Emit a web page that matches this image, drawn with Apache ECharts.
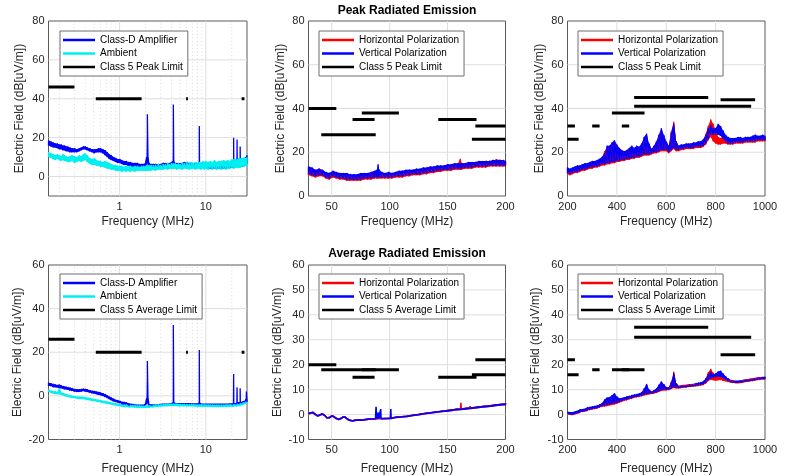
<!DOCTYPE html>
<html>
<head>
<meta charset="utf-8">
<script src="https://cdn.jsdelivr.net/npm/echarts@6/dist/echarts.min.js"></script>
<style>html,body{margin:0;padding:0;background:#fff}#c{width:788px;height:476px}</style>
</head>
<body>
<div id="c"></div>
<script>
// ---------- tick / grid arrays ----------
const lowFreqTicks = [1, 10];
const lowFreqMinorGrid = [0.2,0.3,0.4,0.5,0.6,0.7,0.8,0.9,2,3,4,5,6,7,8,9,20];
const vhfTicks = [50, 100, 150, 200];
const uhfTicks = [200, 400, 600, 800, 1000];
const peakTicks = [0, 20, 40, 60, 80];
const avgLowTicks = [-20, 0, 20, 40, 60];
const avgTicks = [-10, 0, 10, 20, 30, 40, 50, 60];

// ---------- 0.15-30 MHz, peak: [MHz, ampLo, ampHi, ambLo, ambHi] ----------
const peakLowRows = [
[0.15,16,18.5,10,12.5],[0.16,15.5,18,9.5,12],[0.17,15,17.5,9,11.5],[0.18,15,17,8.5,11],[0.19,14.5,17,9,11.5],
[0.2,14,16.5,8.5,11],[0.21,14,16.5,8,10.5],[0.22,13.5,16,8.5,11.5],[0.23,13.5,16,8,11],[0.24,13,15.5,8,10.5],
[0.25,13,15.5,7.5,10],[0.265,12.5,15,7.5,10.5],[0.28,12.5,14.5,8,11],[0.3,12.5,14.5,7,10.5],[0.32,12.5,14,7.5,10],
[0.34,13,14.5,8,11],[0.36,13.5,15,7.5,10.5],[0.38,14,15.5,8,11.5],[0.4,14,15.5,8.5,12],[0.42,13.5,15,7.5,11],
[0.45,13,14.5,6.5,9.5],[0.48,12.5,14,6,9],[0.51,12,14,6,9.5],[0.54,12.5,14,5.5,8.5],[0.57,12.5,14.5,5.5,8],
[0.6,12.5,14.5,5,8],[0.64,12,14,5,7.5],[0.68,11,13.5,4.5,8],[0.72,10,12.5,4,7.5],[0.76,9,11.5,4,7],
[0.8,8.5,11,3.5,6.5],[0.85,8,10,3.5,6],[0.9,7.5,9.5,3,6],[0.95,7,9,3,5.5],[1.0,7,9,3,5.5],
[1.06,6.5,8.5,2.5,5.5],[1.12,6,8,3,5],[1.19,6,8,2.5,5.5],[1.26,5.5,7.5,3,5],[1.33,5.5,7.5,2.5,5.5],
[1.41,5,7,3,5],[1.5,5,7,2.5,5.5],[1.6,5,7,3,5.5],[1.7,5,6.5,3,5],[1.8,5,6.5,3,5.5],
[1.9,5,6.5,3,5.5],[2.0,5,7,3,5.5],[2.06,6,10,3,5.5],[2.1,7,32,3,6],[2.14,6,10,3,5.5],
[2.2,5,7,3,6],[2.3,4.5,6.5,3,6],[2.45,4.5,6.5,3.5,6],[2.6,4.5,6.5,3,6],[2.8,4.5,6.5,3.5,6.5],
[3.0,4.5,6.5,3.5,6],[3.2,4.5,7,3.5,6.5],[3.4,5,7,4,6.5],[3.6,5,7,3.5,7],[3.8,5,7,4,6.5],
[4.0,5,7.5,4,7],[4.15,5,8,4,6.5],[4.2,6,37,4,7],[4.25,5,8,4,6.5],[4.4,5,7,4,7],
[4.6,5,7,3.5,6.5],[4.8,5,7,4,7],[5.0,5,7,4,6.5],[5.3,5,7,3.5,7],[5.6,5,7.5,4,7],
[6.0,5,7.5,4,7.5],[6.4,5,7,3.5,7],[6.8,5,7,4,7.5],[7.2,5,7,4,7],[7.6,5,7,3.5,7.5],
[8.0,5,7,4,7],[8.35,5,7,4,7.5],[8.4,5,26,4,7],[8.45,5,7,4,7.5],[8.8,5,7,3.5,7],
[9.2,4.5,7,4,8],[9.6,4.5,7,3.5,7.5],[10,4.5,6.5,4,8],[10.6,4.5,6.5,3.5,7.5],[11.2,4,6.5,4,8],
[11.9,4,6.5,3.5,7.5],[12.6,4,6.5,4,8.5],[13.3,4,6.5,3.5,7.5],[14.1,4,6.5,4,8],[15,4,6.5,3.5,8],
[16,4,7,4,8.5],[17,4,7,3.5,8],[18,4.5,7,4,8.5],[19,4.5,7,4,8],[20,4.5,7.5,4.5,9],
[20.9,4.5,7.5,4,8.5],[21,5,20,4.5,9],[21.1,4.5,7.5,4,8.5],[22,5,7.5,4.5,9],[22.9,5,7.5,4.5,8.5],
[23,5,19,4.5,9],[23.1,5,7.5,4.5,9],[24,5,8,4.5,9.5],[24.9,5,8,4.5,9],[25,5,15.5,5,9.5],
[25.1,5,8,4.5,9],[26,5,8.5,5,9.5],[27,5.5,9,5,9.5],[28,5.5,9.5,5,10],[29,6,10,5.5,9.5],[30,6.5,11,5.5,10]
];

// ---------- 0.15-30 MHz, average: [MHz, ampLo, ampHi, ambLo, ambHi] ----------
const avgLowRows = [
[0.15,4.5,6,1.8,2.8],[0.16,4.5,5.8,1.6,2.5],[0.17,4,5.5,1.3,2.2],[0.18,4,5.2,1,2],[0.19,3.8,5,0.8,1.8],
[0.2,3.5,5.2,0.8,3.5],[0.21,3.5,4.8,0.5,1.5],[0.22,3.3,4.5,0.3,1.3],[0.23,3,4.3,0,1],[0.24,3,4.2,-0.2,0.8],
[0.25,2.8,4,-0.3,0.6],[0.265,2.5,3.8,-0.5,0.4],[0.28,2.3,3.5,-0.7,0.2],[0.3,2,3.2,-0.8,0],[0.32,1.8,3,-1,-0.2],
[0.34,1.8,3,-1.1,-0.3],[0.36,2,3.2,-1.2,-0.3],[0.38,2.2,3.3,-1.3,-0.4],[0.4,2,3.2,-1.4,-0.5],[0.42,1.8,3,-1.6,-0.7],
[0.45,1.5,2.6,-1.8,-0.9],[0.48,1.2,2.3,-2,-1.1],[0.51,1,2.2,-2.2,-1.3],[0.54,0.8,2,-2.4,-1.5],[0.57,0.5,1.8,-2.6,-1.7],
[0.6,0.3,1.5,-2.8,-1.9],[0.64,0,1.2,-3,-2.1],[0.68,-0.5,0.8,-3.2,-2.3],[0.72,-1,0.2,-3.4,-2.5],[0.76,-1.5,-0.3,-3.6,-2.7],
[0.8,-2,-0.8,-3.8,-2.9],[0.85,-2.5,-1.3,-4,-3.1],[0.9,-2.8,-1.8,-4.2,-3.3],[0.95,-3,-2,-4.4,-3.5],[1.0,-3.3,-2.3,-4.5,-3.6],
[1.06,-3.5,-2.6,-4.7,-3.8],[1.12,-3.8,-2.8,-4.8,-3.9],[1.19,-4,-3,-5,-4],[1.26,-4.2,-3.3,-5,-4.1],[1.33,-4.3,-3.5,-5.2,-4.2],
[1.41,-4.5,-3.6,-5.2,-4.2],[1.5,-4.6,-3.8,-5.3,-4.3],[1.6,-4.7,-3.9,-5.4,-4.4],[1.7,-4.8,-4,-5.5,-4.4],[1.8,-4.8,-4,-5.5,-4.5],
[1.9,-4.8,-4,-5.5,-4.5],[2.0,-4.5,-3.5,-5.5,-4.5],[2.06,-4,-1,-5.5,-4.5],[2.1,-3,16,-5.4,-4.4],[2.14,-4,-1,-5.4,-4.4],
[2.2,-4.6,-3.8,-5.4,-4.4],[2.3,-4.6,-3.8,-5.3,-4.3],[2.45,-4.5,-3.8,-5.2,-4.2],[2.6,-4.5,-3.8,-5.1,-4.1],[2.8,-4.4,-3.7,-5,-4],
[3.0,-4.3,-3.6,-4.9,-3.9],[3.2,-4.2,-3.5,-4.8,-3.8],[3.4,-4.2,-3.5,-4.7,-3.7],[3.6,-4.2,-3.5,-4.7,-3.7],[3.8,-4.1,-3.4,-4.6,-3.6],
[4.0,-4,-3.2,-4.6,-3.6],[4.15,-4,-3,-4.6,-3.6],[4.2,-4,32.5,-4.6,-3.6],[4.25,-4,-3,-4.6,-3.6],[4.4,-4,-3.2,-4.6,-3.6],
[4.6,-4,-3.3,-4.6,-3.6],[4.8,-4,-3.3,-4.7,-3.7],[5.0,-4,-3.3,-4.7,-3.7],[5.3,-4,-3.3,-4.7,-3.7],[5.6,-4,-3.3,-4.7,-3.7],
[6.0,-4,-3.3,-4.8,-3.8],[6.4,-4,-3.3,-4.8,-3.8],[6.8,-4.1,-3.4,-4.8,-3.8],[7.2,-4.1,-3.4,-4.8,-3.8],[7.6,-4.1,-3.4,-4.9,-3.9],
[8.0,-4.1,-3.4,-4.9,-3.9],[8.35,-4,-3,-4.9,-3.9],[8.4,-4,21,-4.9,-3.9],[8.45,-4,-3,-4.9,-3.9],[8.8,-4.2,-3.5,-4.9,-3.9],
[9.2,-4.2,-3.5,-5,-4],[9.6,-4.2,-3.5,-5,-4],[10,-4.3,-3.5,-5,-4],[10.6,-4.3,-3.5,-5,-4],[11.2,-4.3,-3.5,-5,-4],
[11.9,-4.3,-3.5,-5.1,-4.1],[12.6,-4.3,-3.5,-5.1,-4.1],[13.3,-4.3,-3.5,-5.1,-4.1],[14.1,-4.3,-3.5,-5.1,-4.1],[15,-4.3,-3.5,-5.1,-4.1],
[16,-4.3,-3.5,-5.1,-4.1],[17,-4.3,-3.5,-5,-4],[18,-4.3,-3.5,-5,-4],[19,-4.2,-3.4,-5,-4],[20,-4.2,-3.4,-4.9,-3.9],
[20.9,-4.2,-3.4,-4.9,-3.9],[21,-4,10,-4.9,-3.9],[21.1,-4.2,-3.3,-4.9,-3.9],[22,-4.2,-3.3,-4.8,-3.8],[22.9,-4.1,-3.2,-4.8,-3.8],
[23,-4,4,-4.8,-3.8],[23.1,-4,-3.2,-4.7,-3.7],[24,-4,-3,-4.6,-3.6],[24.9,-4,-3,-4.5,-3.5],[25,-4,3.5,-4.5,-3.5],
[25.1,-3.8,-2.8,-4.4,-3.4],[26,-3.7,-2.7,-4.3,-3.3],[27,-3.5,-2.5,-4.1,-3.1],[28,-3.3,-2.2,-3.9,-2.9],[29,-3,-1.5,-3.6,-2.6],
[29.5,-3,2,-3.4,-2.4],[30,-2.8,-1.5,-3.2,-2.2]
];

// ---------- 30-200 MHz, peak: [MHz, horLo, horHi, verLo, verHi] ----------
const peakVhfRows = [
[30,9.5,13,10,13.5],[33,9,12.5,9.5,13],[36,8.5,11.5,9,12],[39,9,12.5,9.5,12.5],[42,9,11.5,9.5,12],
[45,8,10.5,8.5,11],[48,7.5,10,8,10.5],[51,8.5,11,9,11.5],[54,8,10.5,8.5,11],[57,7.5,10,8,10.5],
[60,7.5,10,8,10.5],[63,7,10,7.5,10.5],[66,7,9.5,7.5,10],[69,7,9.5,7.5,10],[72,7,9.5,7.5,10],
[75,7,10,7.5,10.5],[78,7.5,10,8,10.5],[81,7.5,10,8,10.5],[84,7.5,10.5,8,11],[87,8,11,8.5,11.5],
[89,8,11,8.5,12],[90,8,11.5,8.5,14.5],[91,8,11,8.5,12],[93,8,10.5,8.5,11],[96,8,10,8.5,10.5],
[99,8,10.5,8.5,11],[102,8,10,8.5,10.5],[105,8.5,10.5,9,11],[108,8.5,11,9,11.5],[111,8.5,11,9,11.5],
[114,9,11.5,9.5,12],[117,9,11.5,9.5,12],[120,9.5,11.5,10,12],[123,9.5,12,10,12.5],[126,9.5,12,10,12.5],
[129,10,12.5,10.5,13],[132,10,12.5,10.5,13],[135,10.5,13,11,13.5],[138,10.5,13,11,13.5],[141,11,13.5,11.5,14],
[144,11,13.5,11.5,14],[147,11.5,14,12,14],[150,11.5,14,12,14.5],[153,11.5,14,12,14.5],[156,12,14.5,12.5,15],
[159,12,15,12.5,15],[161,12,17,12.5,15],[162,12,15,12.5,15],[165,12.5,15,13,15],[168,12.5,15,13,15.5],
[171,12.5,15,13,15.5],[174,13,15.5,13.5,15.5],[177,13,15.5,13.5,16],[180,13,15.5,13.5,16],[183,13,16,13.5,16],
[186,13.5,16,14,16],[189,13.5,16,14,16.5],[192,13.5,16.8,14,16.5],[195,13.5,16.5,14,16.5],[198,13.5,16.5,14,16.5],
[200,13.5,16,14,16]
];

// ---------- 30-200 MHz, average: [MHz, horLo, horHi, verLo, verHi] ----------
const avgVhfRows = [
[30,0.2,0.6,0.3,0.7],[32,0.6,1.0,0.6,1.0],[34,0.7,1.1,0.8,1.2],[36,0.0,0.4,0.0,0.4],[38,-0.6,-0.2,-0.6,-0.2],
[40,-0.2,0.2,-0.2,0.2],[42,0.2,0.6,0.2,0.6],[44,-0.4,0,-0.4,0],[46,-1.4,-1.0,-1.4,-1.0],[48,-1.3,-0.9,-1.3,-0.9],
[50,-0.6,-0.2,-0.6,-0.2],[52,-0.9,-0.5,-0.9,-0.5],[54,-1.6,-1.2,-1.6,-1.2],[56,-2.0,-1.6,-2.0,-1.6],[58,-1.6,-1.2,-1.6,-1.2],
[60,-1.0,-0.6,-1.0,-0.6],[62,-1.2,-0.8,-1.2,-0.8],[64,-2.0,-1.6,-2.0,-1.6],[66,-2.4,-2.0,-2.4,-2.0],[68,-2.6,-2.2,-2.6,-2.2],
[70,-2.4,-2.0,-2.4,-2.0],[73,-2.2,-1.8,-2.2,-1.8],[76,-2.3,-1.9,-2.3,-1.9],[79,-2.1,-1.7,-2.1,-1.7],[82,-1.9,-1.5,-1.9,-1.5],
[85,-1.8,-1.4,-1.8,-1.4],[87.8,-1.8,-1.4,-1.8,-1.4],[88.3,-1.8,-1.4,-1.8,3.1],[88.8,-1.8,-1.4,-1.8,-1.4],[90,-1.7,-1.3,-1.7,-1.3],
[90.3,-1.7,-1.3,-1.7,0.8],[90.6,-1.7,-1.3,-1.7,-1.3],[92,-1.7,-1.3,-1.7,-1.3],[92.3,-1.7,-1.3,-1.7,2.2],[92.6,-1.7,-1.3,-1.7,-1.3],
[95,-1.7,-1.3,-1.7,-1.3],[100.7,-1.6,-1.2,-1.6,-1.2],[101,-1.6,-1.2,-1.6,2.2],[101.3,-1.6,-1.2,-1.6,-1.2],[105,-1.2,-0.8,-1.2,-0.8],
[110,-1.0,-0.6,-1.0,-0.6],[115,-0.8,-0.4,-0.8,-0.4],[120,-0.4,0,-0.4,0],[125,-0.1,0.3,-0.1,0.3],[130,0.3,0.7,0.3,0.7],
[135,0.6,1.0,0.6,1.0],[140,0.9,1.3,0.9,1.3],[145,1.2,1.6,1.2,1.6],[150,1.5,1.9,1.5,1.9],[155,1.8,2.2,1.8,2.2],
[157.7,2.0,2.4,2.0,2.4],[158,2.0,2.8,2.0,2.4],[158.3,2.0,2.4,2.0,2.4],[161.2,2.1,2.5,2.1,2.5],[161.5,2.1,4.7,2.1,2.5],
[161.8,2.1,2.5,2.1,2.5],[165,2.3,2.7,2.3,2.7],[169.2,2.5,2.9,2.5,2.9],[169.5,2.5,3.4,2.5,2.9],[169.8,2.5,2.9,2.5,2.9],
[175,2.8,3.2,2.8,3.2],[180,3.1,3.5,3.1,3.5],[185,3.3,3.7,3.3,3.7],[190,3.6,4.0,3.6,4.0],[195,3.9,4.3,3.9,4.3],
[200,4.1,4.5,4.1,4.5]
];

// ---------- 200-1000 MHz, peak: [MHz, horLo, horHi, verLo, verHi] ----------
const peakUhfRows = [
[200,10,12.5,10.5,13],[210,9.5,12,10,12.5],[220,10,12.5,10.5,13],[230,10.5,13,11,13.5],[240,10.5,13.5,11,14],
[250,11,13.5,11.5,14],[260,11.5,14,12,14.5],[270,11.5,14.5,12,15],[280,12,14.5,12.5,15],[290,12.5,15,13,15.5],
[300,12.5,15.5,13,16],[310,13,15.5,13.5,16],[320,13,16,13.5,16.5],[330,13.5,16.5,14,17],[340,14,17.5,14.5,18],
[350,14,20.5,14.5,19.5],[360,14.5,22,15,23],[370,14.5,22.5,15,23],[380,15,24,15.5,24.5],[390,15,24.5,15.5,25.5],
[400,15.5,23,16,23.5],[410,15.5,21.5,16,22],[420,16,20.5,16.5,21],[430,16,20,16.5,20.5],[440,16.5,20.5,17,21],
[450,16.5,21.5,17,22],[460,17,22.5,17.5,23],[470,17,22,17.5,22],[480,17.5,22.5,18,23],[490,17.5,22,18,22.5],
[500,18,23,18.5,24],[510,18.5,26,19,27],[520,18.5,27,19,28.5],[530,18.5,23.5,19,24],[540,19,21.5,19.5,21.5],
[550,19.5,22.5,20,23],[560,19.5,24.5,20,25],[570,20,27.5,20.5,28],[580,20.5,30,21,31],[590,20.5,27.5,21,28],
[600,20.5,24.5,21,25],[610,19.5,22.5,20,23],[620,20.5,29.5,21,29],[630,21.5,34,22,33],[640,20.5,25,21,25],
[650,20.5,22.5,21,23],[660,21,23,21.5,23.5],[670,21,23,21.5,23.5],[680,21.5,23.5,22,24],[690,21.5,23.5,22,24],
[700,21.5,24,22,24],[710,21.5,24,22,24.5],[720,22,24,22.5,24.5],[730,22,24.5,22.5,25],[740,22,24.5,22.5,25],
[750,22.5,25.5,23,26],[760,23.5,28.5,24,28],[770,25.5,32,26,31],[780,27,35,28,32.5],[790,25,33,28,31],
[800,24,30,28,31],[810,23.5,27,28,33],[820,23.5,26.5,27.5,32],[830,24,27,26,30],[840,24,27,25,28],
[850,23.5,26.5,24,27],[860,23.5,26,24,26.5],[870,23.5,26,24,26.5],[880,24,26,24.5,26.5],[890,24,26.5,24.5,27],
[900,24,26.5,24.5,27],[910,24,26,24.5,26.5],[920,24.5,26.5,25,27],[930,24.5,26.5,25,27],[940,24.5,26.5,25,27],
[950,24.5,27,25,27.5],[960,24.5,27.5,25,28],[970,25,27,25.5,27.5],[980,25,27,25.5,27.5],[990,25,27.5,25.5,28],
[1000,25,27,25.5,27.5]
];

// ---------- 200-1000 MHz, average: [MHz, horLo, horHi, verLo, verHi] ----------
const avgUhfRows = [
[200,0.3,1.0,0.5,1.2],[210,0.1,0.8,0.3,1.0],[220,0.0,0.8,0.2,1.0],[230,0.3,1.1,0.5,1.3],[240,0.6,1.4,0.8,1.6],
[250,0.8,1.8,1.0,2.0],[260,1.2,2.0,1.4,2.2],[270,1.4,2.2,1.6,2.4],[280,1.6,2.6,1.8,2.8],[290,1.8,2.8,2.0,3.0],
[300,2.0,3.0,2.2,3.2],[310,2.2,3.2,2.4,3.4],[320,2.4,3.4,2.6,3.6],[330,2.8,3.8,3.0,4.0],[340,3.2,4.4,3.4,4.6],
[350,3.2,5.4,3.6,6.0],[360,3.4,6.0,3.8,6.8],[370,3.6,6.4,4.0,7.0],[380,3.8,7.2,4.2,7.8],[390,4.0,8.0,4.4,8.6],
[400,4.3,6.8,4.6,7.2],[410,4.7,6.3,5.0,6.5],[420,5.1,6.4,5.4,6.6],[430,5.5,6.7,5.8,6.9],[440,5.7,7.0,6.0,7.2],
[450,6.1,7.3,6.4,7.5],[460,6.3,7.6,6.6,7.8],[470,6.7,7.8,7.0,8.0],[480,6.9,8.0,7.2,8.2],[490,7.1,8.3,7.4,8.5],
[500,7.3,8.8,7.6,9.0],[510,7.7,10.2,8.0,10.5],[520,7.9,11.8,8.2,12.3],[530,8.1,9.8,8.4,10.0],[540,8.3,9.2,8.6,9.4],
[550,8.5,9.6,8.8,9.8],[560,8.7,10.2,9.0,10.5],[570,9.1,11.6,9.4,12.0],[580,9.5,13.0,9.8,13.3],[590,9.7,12.0,10.0,12.2],
[600,9.7,10.8,10.0,11.0],[610,9.9,10.8,10.2,11.0],[620,10.3,13.2,10.6,13.0],[630,10.7,17.2,11.0,16.5],[640,10.5,12.5,10.8,12.5],
[650,10.5,11.4,10.8,11.6],[660,10.7,11.6,11.0,11.8],[670,10.9,11.8,11.2,12.0],[680,10.9,11.8,11.2,12.0],[690,11.1,12.0,11.4,12.2],
[700,11.2,12.1,11.5,12.3],[710,11.3,12.2,11.6,12.4],[720,11.4,12.4,11.7,12.6],[730,11.5,12.6,11.8,12.8],[740,11.7,12.8,12.0,13.0],
[750,11.9,13.2,12.2,13.4],[760,12.5,14.6,12.8,14.5],[770,13.5,17.0,13.8,16.2],[780,14.0,18.3,14.5,17.2],[790,13.8,16.8,14.8,16.2],
[800,13.6,15.5,15.0,16.5],[810,13.8,15.0,15.2,17.3],[820,13.9,15.2,15.0,17.6],[830,13.6,14.9,14.5,16.5],[840,13.4,14.6,14.0,15.4],
[850,13.1,14.2,13.5,14.5],[860,12.9,13.8,13.2,14.0],[870,12.7,13.6,13.0,13.8],[880,12.7,13.5,13.0,13.7],[890,12.7,13.5,13.0,13.7],
[900,12.8,13.6,13.1,13.8],[910,12.9,13.8,13.2,14.0],[920,13.1,14.0,13.4,14.2],[930,13.2,14.1,13.5,14.3],[940,13.4,14.3,13.7,14.5],
[950,13.5,14.4,13.8,14.6],[960,13.7,14.6,14.0,14.8],[970,13.9,14.8,14.2,15.0],[980,14.0,14.9,14.3,15.1],[990,14.2,15.0,14.5,15.2],
[1000,14.2,15.0,14.5,15.2]
];

// ---------- CISPR 25 Class 5 limits: [startMHz, stopMHz, dBuV/m] ----------
const peakLimitLow = [[0.15,0.3,46],[0.53,1.8,40],[5.9,6.2,40],[26,28,40]];
const avgLimitLow  = [[0.15,0.3,26],[0.53,1.8,20],[5.9,6.2,20],[26,28,20]];
const peakLimitVhf = [[30,54,40],[41,88,28],[68,87,35],[76,108,38],[142,175,35],[171,200,26],[174,200,32]];
const avgLimitVhf  = [[30,54,20],[41,88,18],[68,87,15],[76,108,18],[142,175,15],[171,200,16],[174,200,22]];
const peakLimitUhf = [[200,230,32],[200,245,26],[300,330,32],[420,450,32],[380,512,38],[470,770,45],[470,944,41],[820,960,44]];
const avgLimitUhf  = [[200,230,22],[200,245,16],[300,330,18],[420,450,18],[380,512,18],[470,770,35],[470,944,31],[820,960,24]];

// ---------- build ----------
const FONT = "'Liberation Sans', Arial, Helvetica, sans-serif";
const TXT = '#262626';
const BLUE = '#0000ff', RED = '#ff0000', CYAN = '#00f0f0';

const panels = [
  {g:[48.5,21,198.5,175], xType:'log', xMin:0.15, xMax:30, xStep:null, xLab:lowFreqTicks, xMinor:lowFreqMinorGrid,
   yMin:-10, yMax:80, yStep:10, yLab:peakTicks, rows:peakLowRows, names:['Class-D Amplifier','Ambient'], colors:[BLUE,CYAN],
   lim:peakLimitLow, limName:'Class 5 Peak Limit', leg:[60,31], yGap:23, xGap:20, lw:1.3},
  {g:[308.5,21,197,175], xType:'value', xMin:30, xMax:200, xStep:10, xLab:vhfTicks, xMinor:[],
   yMin:0, yMax:80, yStep:20, yLab:peakTicks, rows:peakVhfRows, names:['Horizontal Polarization','Vertical Polarization'], colors:[RED,BLUE],
   lim:peakLimitVhf, limName:'Class 5 Peak Limit', leg:[319,31], yGap:22, xGap:20, lw:1.3},
  {g:[567.5,21,197.5,175], xType:'value', xMin:200, xMax:1000, xStep:200, xLab:uhfTicks, xMinor:[],
   yMin:0, yMax:80, yStep:20, yLab:peakTicks, rows:peakUhfRows, names:['Horizontal Polarization','Vertical Polarization'], colors:[RED,BLUE],
   lim:peakLimitUhf, limName:'Class 5 Peak Limit', leg:[578,31], yGap:22, xGap:20, lw:1.3},
  {g:[48.5,265,198.5,174.5], xType:'log', xMin:0.15, xMax:30, xStep:null, xLab:lowFreqTicks, xMinor:lowFreqMinorGrid,
   yMin:-20, yMax:60, yStep:20, yLab:avgLowTicks, rows:avgLowRows, names:['Class-D Amplifier','Ambient'], colors:[BLUE,CYAN],
   lim:avgLimitLow, limName:'Class 5 Average Limit', leg:[60,274], yGap:25, xGap:23, lw:1.3},
  {g:[308.5,265,197,174.5], xType:'value', xMin:30, xMax:200, xStep:10, xLab:vhfTicks, xMinor:[],
   yMin:-10, yMax:60, yStep:10, yLab:avgTicks, rows:avgVhfRows, names:['Horizontal Polarization','Vertical Polarization'], colors:[RED,BLUE],
   lim:avgLimitVhf, limName:'Class 5 Average Limit', leg:[319,274], yGap:25, xGap:23, lw:1.6},
  {g:[567.5,265,197.5,174.5], xType:'value', xMin:200, xMax:1000, xStep:200, xLab:uhfTicks, xMinor:[],
   yMin:-10, yMax:60, yStep:10, yLab:avgTicks, rows:avgUhfRows, names:['Horizontal Polarization','Vertical Polarization'], colors:[RED,BLUE],
   lim:avgLimitUhf, limName:'Class 5 Average Limit', leg:[578,274], yGap:26, xGap:23, lw:1.3}
];

function inList(v, list) {
  return list.some(t => Math.abs(v - t) <= 1e-6 * Math.max(1, Math.abs(t)));
}
function band(rows, lo, hi) {
  const out = [];
  rows.forEach(r => { out.push([r[0], r[lo]]); out.push([r[0], r[hi]]); });
  return out;
}

const grid = [], xAxis = [], yAxis = [], series = [], legend = [];
let gid = 0;
panels.forEach((p, i) => {
  grid.push({left:p.g[0], top:p.g[1], width:p.g[2], height:p.g[3], show:true,
    borderColor:'#5a5a5a', borderWidth:1, backgroundColor:'#fff', containLabel:false});
  const xa = {type:p.xType, gridIndex:i, min:p.xMin, max:p.xMax,
    name:'Frequency (MHz)', nameLocation:'middle', nameGap:p.xGap,
    nameTextStyle:{fontFamily:FONT, fontSize:12, color:TXT},
    axisLine:{show:false}, axisTick:{show:false}, splitLine:{show:false},
    axisLabel:{fontFamily:FONT, fontSize:11, color:TXT, margin:5, showMinLabel:true, showMaxLabel:true,
      formatter: (v) => inList(v, p.xLab) ? String(+v.toPrecision(6)) : ''}};
  if (p.xType === 'log') xa.logBase = 10; else xa.interval = p.xStep;
  xAxis.push(xa);
  yAxis.push({type:'value', gridIndex:i, min:p.yMin, max:p.yMax, interval:p.yStep,
    name:'Electric Field (dB[uV/m])', nameLocation:'middle', nameGap:p.yGap,
    nameTextStyle:{fontFamily:FONT, fontSize:12, color:TXT},
    axisLine:{show:false}, axisTick:{show:false}, splitLine:{show:false},
    axisLabel:{fontFamily:FONT, fontSize:11, color:TXT, margin:4,
      formatter: (v) => inList(v, p.yLab) ? String(v) : ''}});

  // grid lines as series
  const gl = (data, dotted) => series.push({type:'line', name:'_grid'+(gid++), xAxisIndex:i, yAxisIndex:i,
    data, symbol:'none', silent:true, z:1, animation:false,
    lineStyle:{color: dotted ? '#d2d2d2' : '#dedede', width: dotted ? 0.8 : 1, type: dotted ? [1,2.5] : 'solid'}});
  p.xLab.filter(v => v > p.xMin && v < p.xMax).forEach(v => gl([[v,p.yMin],[v,p.yMax]], false));
  p.xMinor.forEach(v => gl([[v,p.yMin],[v,p.yMax]], true));
  p.yLab.filter(v => v > p.yMin && v < p.yMax).forEach(v => gl([[p.xMin,v],[p.xMax,v]], false));

  // data bands: filled envelope polygon + noisy zigzag outline
  [[1,2],[3,4]].forEach((cols, k) => {
    const rows = p.rows, color = p.colors[k];
    series.push({type:'custom', name:'_env'+i+'_'+k, xAxisIndex:i, yAxisIndex:i, silent:true, z:2, animation:false,
      clip:true, data:[[rows[0][0], rows[0][cols[0]]]],
      renderItem: (params, api) => {
        const pts = [];
        for (let j = 0; j < rows.length; j++) pts.push(api.coord([rows[j][0], rows[j][cols[0]]]));
        for (let j = rows.length - 1; j >= 0; j--) pts.push(api.coord([rows[j][0], rows[j][cols[1]]]));
        return {type:'polygon', shape:{points:pts}, style:{fill:color, stroke:null}};
      }});
    series.push({type:'line', name:p.names[k], xAxisIndex:i, yAxisIndex:i,
      data: band(rows, cols[0], cols[1]), symbol:'none', z:2, animation:false,
      color:color, lineStyle:{color:color, width:p.lw, join:'bevel'}, clip:true});
  });
  // limits
  p.lim.forEach(seg => {
    series.push({type:'line', name:p.limName, xAxisIndex:i, yAxisIndex:i,
      data:[[seg[0],seg[2]],[seg[1],seg[2]]], symbol:'none', z:3, animation:false,
      color:'#000', lineStyle:{color:'#000', width:3}, clip:true});
  });

  legend.push({data:[p.names[0], p.names[1], p.limName], left:p.leg[0], top:p.leg[1], orient:'vertical',
    icon:'rect', itemWidth:32, itemHeight:2.5, itemGap:1.5, padding:[3,5,3,3],
    borderColor:'#6e6e6e', borderWidth:1, backgroundColor:'#fff', selectedMode:false, z:10,
    textStyle:{fontFamily:FONT, fontSize:10, color:'#000', lineHeight:12}});
});

const chart = echarts.init(document.getElementById('c'), null, {renderer:'canvas'});
chart.setOption({
  animation:false,
  backgroundColor:'#fff',
  grid, xAxis, yAxis, series, legend,
  graphic:[
    {type:'text', x:407, y:10.5, style:{text:'Peak Radiated Emission', font:"bold 12px 'Liberation Sans', Arial, sans-serif",
      fill:'#000', textAlign:'center', textVerticalAlign:'middle'}},
    {type:'text', x:407, y:253.5, style:{text:'Average Radiated Emission', font:"bold 12px 'Liberation Sans', Arial, sans-serif",
      fill:'#000', textAlign:'center', textVerticalAlign:'middle'}}
  ]
});
</script>
</body>
</html>
